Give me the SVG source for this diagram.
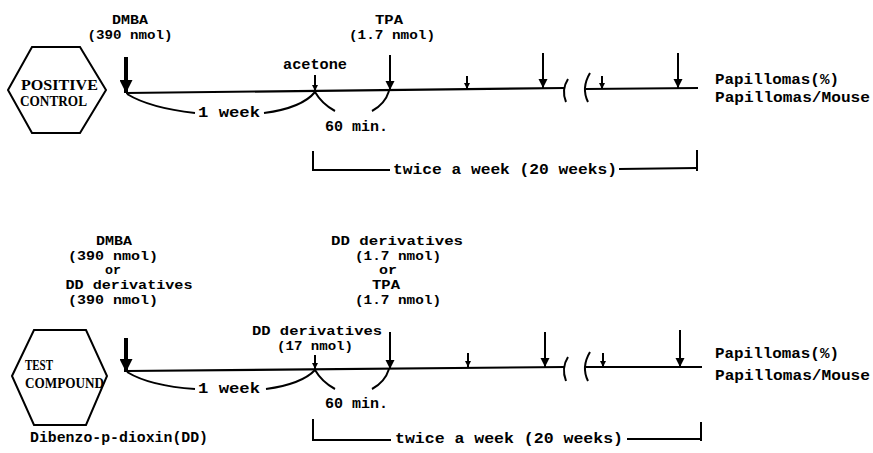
<svg xmlns="http://www.w3.org/2000/svg" width="873" height="453" viewBox="0 0 873 453">
<style>
.bg{fill:#fff}
.t{font-family:"Liberation Mono","DejaVu Sans Mono",monospace;font-weight:bold;font-size:15px;fill:#000}
.s{font-size:13px}
.m{text-anchor:middle}
.h{font-family:"Liberation Serif","DejaVu Serif",serif;font-weight:bold;font-size:14px;fill:#000}
.hex{fill:none;stroke:#000;stroke-width:2}
.ln{fill:none;stroke:#000;stroke-width:2.2}
.cv{fill:none;stroke:#000;stroke-width:2}
.ar{fill:none;stroke:#000;stroke-width:2}
.big{fill:none;stroke:#000;stroke-width:4}
</style>
<defs>
<marker id="ah" viewBox="0 0 10 10" refX="10" refY="5" markerWidth="9" markerHeight="10" markerUnits="userSpaceOnUse" orient="auto"><path d="M0,0 L10,5 L0,10 z" fill="#000"/></marker>
<marker id="ahs" viewBox="0 0 10 10" refX="10" refY="5" markerWidth="6" markerHeight="6" markerUnits="userSpaceOnUse" orient="auto"><path d="M0,0 L10,5 L0,10 z" fill="#000"/></marker>
<marker id="ahb" viewBox="0 0 10 10" refX="10" refY="5" markerWidth="18" markerHeight="13" markerUnits="userSpaceOnUse" orient="auto"><path d="M0,0 L10,5 L0,10 z" fill="#000"/></marker>
</defs>
<rect class="bg" x="0" y="0" width="873" height="453"/>

<g id="positive-control">
<polygon class="hex" points="8,90 32,47 80,47 106,90 80,133 32,133"/>
<text class="h" x="21" y="90" textLength="77" lengthAdjust="spacingAndGlyphs">POSITIVE</text>
<text class="h" x="20" y="106" textLength="67" lengthAdjust="spacingAndGlyphs">CONTROL</text>
</g>

<g id="test-compound">
<polygon class="hex" points="12,376 34,330 86,330 107,376 86,425 34,425"/>
<text class="h" x="25" y="370" textLength="28" lengthAdjust="spacingAndGlyphs">TEST</text>
<text class="h" x="25" y="388" textLength="79" lengthAdjust="spacingAndGlyphs">COMPOUND</text>
</g>

<g id="labels-top">
<text class="t s m" x="130" y="24" textLength="36" lengthAdjust="spacingAndGlyphs">DMBA</text>
<text class="t s m" x="130" y="39" textLength="85" lengthAdjust="spacingAndGlyphs">(390 nmol)</text>
<text class="t s m" x="389" y="24" textLength="28" lengthAdjust="spacingAndGlyphs">TPA</text>
<text class="t s m" x="392" y="39" textLength="86" lengthAdjust="spacingAndGlyphs">(1.7 nmol)</text>
<text class="t m" x="315" y="69" textLength="64" lengthAdjust="spacingAndGlyphs">acetone</text>
<text class="t" x="198" y="117" textLength="62" lengthAdjust="spacingAndGlyphs">1 week</text>
<text class="t" x="325" y="131" textLength="63" lengthAdjust="spacingAndGlyphs">60 min.</text>
<text class="t" x="393" y="174" textLength="224" lengthAdjust="spacingAndGlyphs">twice a week (20 weeks)</text>
<text class="t" x="715" y="84" textLength="124" lengthAdjust="spacingAndGlyphs">Papillomas(%)</text>
<text class="t" x="715" y="102" textLength="155" lengthAdjust="spacingAndGlyphs">Papillomas/Mouse</text>
</g>

<g id="labels-bottom">
<text class="t s m" x="114" y="245" textLength="36" lengthAdjust="spacingAndGlyphs">DMBA</text>
<text class="t s m" x="113" y="260" textLength="90" lengthAdjust="spacingAndGlyphs">(390 nmol)</text>
<text class="t s m" x="113" y="274" textLength="16" lengthAdjust="spacingAndGlyphs">or</text>
<text class="t s m" x="129" y="289" textLength="127" lengthAdjust="spacingAndGlyphs">DD derivatives</text>
<text class="t s m" x="113" y="304" textLength="90" lengthAdjust="spacingAndGlyphs">(390 nmol)</text>
<text class="t s m" x="397" y="245" textLength="132" lengthAdjust="spacingAndGlyphs">DD derivatives</text>
<text class="t s m" x="398" y="260" textLength="86" lengthAdjust="spacingAndGlyphs">(1.7 nmol)</text>
<text class="t s m" x="388" y="274" textLength="18" lengthAdjust="spacingAndGlyphs">or</text>
<text class="t s m" x="386" y="289" textLength="28" lengthAdjust="spacingAndGlyphs">TPA</text>
<text class="t s m" x="398" y="304" textLength="86" lengthAdjust="spacingAndGlyphs">(1.7 nmol)</text>
<text class="t s m" x="317" y="335" textLength="130" lengthAdjust="spacingAndGlyphs">DD derivatives</text>
<text class="t s m" x="315" y="350" textLength="76" lengthAdjust="spacingAndGlyphs">(17 nmol)</text>
<text class="t" x="198" y="393" textLength="62" lengthAdjust="spacingAndGlyphs">1 week</text>
<text class="t" x="325" y="408" textLength="63" lengthAdjust="spacingAndGlyphs">60 min.</text>
<text class="t" x="30" y="442" textLength="178" lengthAdjust="spacingAndGlyphs">Dibenzo-p-dioxin(DD)</text>
<text class="t" x="395" y="443" textLength="228" lengthAdjust="spacingAndGlyphs">twice a week (20 weeks)</text>
<text class="t" x="715" y="358" textLength="124" lengthAdjust="spacingAndGlyphs">Papillomas(%)</text>
<text class="t" x="715" y="380" textLength="155" lengthAdjust="spacingAndGlyphs">Papillomas/Mouse</text>
</g>

<g id="connectors">
<!-- top timeline -->
<path class="ln" d="M126,93 L565,88"/>
<path class="cv" d="M568,79 Q561,90 566,102"/>
<path class="cv" d="M590,73 Q581,88 588,102"/>
<path class="ln" d="M586,89 L698,88"/>
<line class="big" x1="126" y1="57" x2="126" y2="93" marker-end="url(#ahb)"/>
<line class="ar" x1="315" y1="75" x2="315" y2="91" marker-end="url(#ahs)"/>
<line class="ar" x1="390" y1="55" x2="390" y2="90" marker-end="url(#ah)"/>
<line class="ar" x1="467" y1="76" x2="467" y2="89" marker-end="url(#ahs)"/>
<line class="ar" x1="543" y1="53" x2="543" y2="88" marker-end="url(#ah)"/>
<line class="ar" x1="602" y1="76" x2="602" y2="89" marker-end="url(#ahs)"/>
<line class="ar" x1="678" y1="53" x2="678" y2="88" marker-end="url(#ah)"/>
<path class="cv" d="M127,94 Q150,108 195,113"/>
<path class="cv" d="M264,113 Q302,108 315,92"/>
<path class="cv" d="M315,92 Q322,104 335,111"/>
<path class="cv" d="M372,111 Q385,104 389,91"/>
<path class="cv" d="M313,151 L313,170 L390,170"/>
<path class="cv" d="M619,169 L697,168"/>
<path class="cv" d="M697,150 L697,171"/>

<!-- bottom timeline -->
<path class="ln" d="M126,371 L565,367"/>
<path class="cv" d="M568,357 Q561,368 566,381"/>
<path class="cv" d="M590,352 Q581,367 588,381"/>
<path class="ln" d="M586,367 L702,367"/>
<line class="big" x1="126" y1="338" x2="126" y2="372" marker-end="url(#ahb)"/>
<line class="ar" x1="315" y1="355" x2="315" y2="369" marker-end="url(#ahs)"/>
<line class="ar" x1="390" y1="332" x2="390" y2="369" marker-end="url(#ah)"/>
<line class="ar" x1="468" y1="353" x2="468" y2="367" marker-end="url(#ahs)"/>
<line class="ar" x1="545" y1="332" x2="545" y2="367" marker-end="url(#ah)"/>
<line class="ar" x1="603" y1="353" x2="603" y2="367" marker-end="url(#ahs)"/>
<line class="ar" x1="680" y1="330" x2="680" y2="367" marker-end="url(#ah)"/>
<path class="cv" d="M127,372 Q150,386 195,389"/>
<path class="cv" d="M266,389 Q302,384 315,370"/>
<path class="cv" d="M315,370 Q322,382 335,389"/>
<path class="cv" d="M372,389 Q385,382 389,369"/>
<path class="cv" d="M313,419 L313,440 L391,440"/>
<path class="cv" d="M627,439 L701,439"/>
<path class="cv" d="M701,422 L701,441"/>
</g>
</svg>
